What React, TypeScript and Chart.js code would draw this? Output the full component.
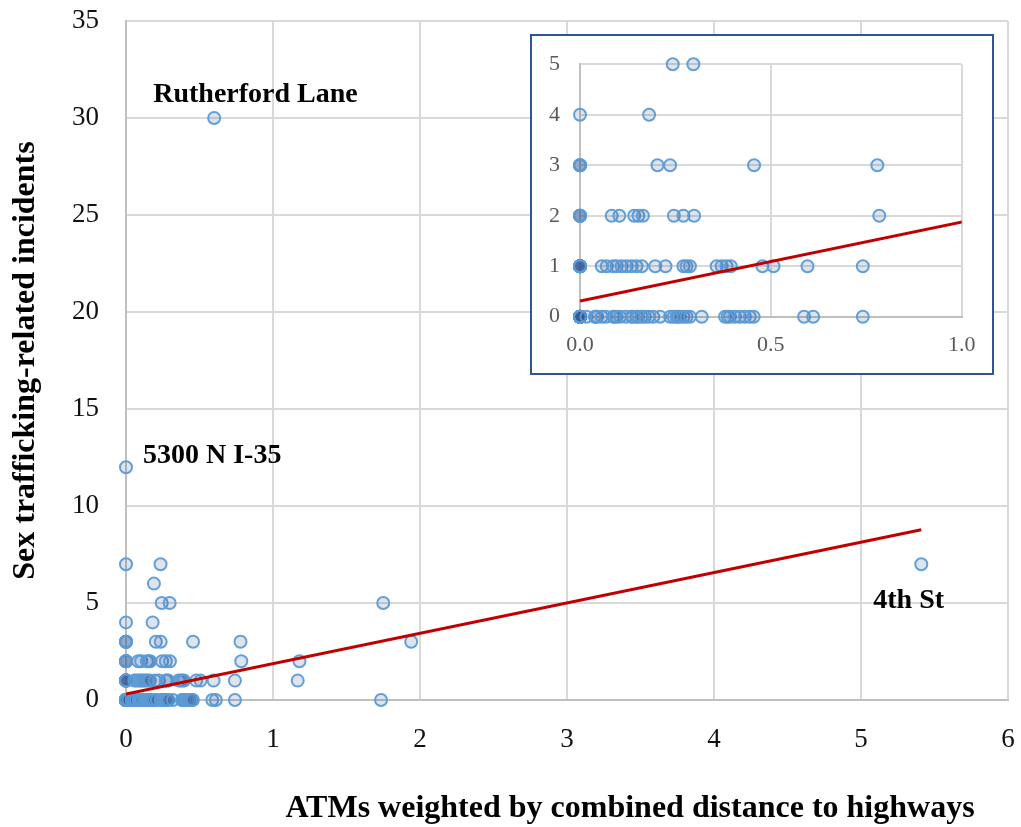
import React, { useEffect, useRef } from "react";
import { Chart, registerables } from "chart.js";

Chart.register(...registerables);

// ATM locations: weighted ATM score (x) grouped by number of incidents (y)
const atmsWithNoIncidents = [
  0, 0, 0, 0, 0, 0, 0, 0, 0, 0, 0, 0, 0, 0, 0, 0, 0, 0, 0, 0,
  0.017, 0.039, 0.042, 0.045, 0.057, 0.068, 0.087, 0.09, 0.096, 0.105, 0.12,
  0.135, 0.138, 0.148, 0.152, 0.161, 0.17, 0.18, 0.192, 0.21, 0.236, 0.245,
  0.253, 0.256, 0.262, 0.271, 0.279, 0.288, 0.319, 0.38, 0.387, 0.393, 0.406,
  0.419, 0.432, 0.445, 0.455, 0.587, 0.611, 0.741, 1.735,
];
const atmsWithOneIncident = [
  0, 0, 0, 0, 0, 0, 0, 0, 0, 0, 0, 0,
  0.057, 0.07, 0.087, 0.096, 0.109, 0.122, 0.135, 0.148, 0.162, 0.197, 0.224,
  0.271, 0.279, 0.288, 0.358, 0.371, 0.384, 0.395, 0.478, 0.507, 0.596, 0.741,
  1.168,
];
const atmsWithTwoIncidents = [
  0, 0, 0, 0, 0, 0.083, 0.103, 0.142, 0.153, 0.165, 0.246, 0.271, 0.299, 0.784,
  1.18,
];
const atmsWithThreeIncidents = [0, 0, 0, 0, 0.203, 0.236, 0.456, 0.779, 1.94];
const atmsWithFourIncidents = [0, 0.181];
const atmsWithFiveIncidents = [0.243, 0.297, 1.75];
const atmsWithSixIncidents = [0.19];
const atmsWithSevenIncidents = [0, 0.235];

// Named outlier locations
const outlierNames = ["Rutherford Lane", "5300 N I-35", "4th St"];
const outlierX = [0.6, 0, 5.41];
const outlierY = [30, 12, 7];

// Linear trend line
const trendIntercept = 0.31;
const trendSlope = 1.565;
const trendRange = [0, 5.41];

// Axis tick settings
const mainXTicks = { min: 0, max: 6, step: 1 };
const mainYTicks = { min: 0, max: 35, step: 5 };
const insetXTicks = { min: 0, max: 1, step: 0.5 };
const insetYTicks = { min: 0, max: 5, step: 1 };

const X_TITLE = "ATMs weighted by combined distance to highways";
const Y_TITLE = "Sex trafficking-related incidents";

const SERIF = '"Liberation Serif", "Times New Roman", serif';

const levelGroups: [number[], number][] = [
  [atmsWithNoIncidents, 0],
  [atmsWithOneIncident, 1],
  [atmsWithTwoIncidents, 2],
  [atmsWithThreeIncidents, 3],
  [atmsWithFourIncidents, 4],
  [atmsWithFiveIncidents, 5],
  [atmsWithSixIncidents, 6],
  [atmsWithSevenIncidents, 7],
];

function buildPoints() {
  const pts: { x: number; y: number }[] = [];
  levelGroups.forEach(([xs, y]) => xs.forEach((x) => pts.push({ x, y })));
  outlierX.forEach((x, i) => pts.push({ x, y: outlierY[i] }));
  return pts;
}

function buildTrend() {
  return trendRange.map((x) => ({ x, y: trendIntercept + trendSlope * x }));
}

// markers may spill a few px past the plot edge, anything further is hidden
const MARKER_CLIP = { left: 9, right: 9, top: 9, bottom: 9 };

function datasets() {
  return [
    {
      type: "scatter" as const,
      data: buildTrend(),
      showLine: true,
      pointRadius: 0,
      borderColor: "#c00000",
      borderWidth: 3,
      order: 0,
      clip: 0,
    },
    {
      type: "scatter" as const,
      data: buildPoints(),
      pointRadius: 6,
      pointBorderWidth: 2,
      pointBackgroundColor: "rgba(47, 85, 151, 0.16)",
      pointBorderColor: "rgba(91, 155, 213, 0.95)",
      order: 1,
      clip: MARKER_CLIP,
    },
  ];
}

const gridStyle = { color: "#d9d9d9", lineWidth: 2, drawTicks: false };
const borderStyle = { color: "#bfbfbf", width: 2 };

// fix an axis box size and drop the extra padding Chart.js reserves for edge labels
function fixBox(size: number, horizontal: boolean) {
  return (s: any) => {
    if (horizontal) s.height = size;
    else s.width = size;
    s.paddingTop = 0;
    s.paddingBottom = 0;
    s.paddingLeft = 0;
    s.paddingRight = 0;
  };
}

const axisTitlesPlugin = {
  id: "axisTitles",
  afterDraw(chart: any) {
    const { ctx, chartArea } = chart;
    ctx.save();
    ctx.fillStyle = "#000";
    ctx.font = `bold 32px ${SERIF}`;
    ctx.textAlign = "center";
    ctx.textBaseline = "alphabetic";
    ctx.fillText(X_TITLE, 630, 817);
    ctx.translate(34, (chartArea.top + chartArea.bottom) / 2);
    ctx.rotate(-Math.PI / 2);
    ctx.fillText(Y_TITLE, 0, 0);
    ctx.restore();
  },
};

// label offsets (px) from each named point
const labelOffsets = [
  { dx: -61, dy: -16 },
  { dx: 17, dy: -4 },
  { dx: -48, dy: 44 },
];

const outlierLabelsPlugin = {
  id: "outlierLabels",
  afterDatasetsDraw(chart: any) {
    const { ctx, scales } = chart;
    ctx.save();
    ctx.fillStyle = "#000";
    ctx.font = `bold 28px ${SERIF}`;
    ctx.textAlign = "left";
    ctx.textBaseline = "alphabetic";
    outlierNames.forEach((name, i) => {
      const px = scales.x.getPixelForValue(outlierX[i]);
      const py = scales.y.getPixelForValue(outlierY[i]);
      ctx.fillText(name, px + labelOffsets[i].dx, py + labelOffsets[i].dy);
    });
    ctx.restore();
  },
};

function MainChart() {
  const ref = useRef<HTMLCanvasElement>(null);
  useEffect(() => {
    if (!ref.current) return;
    const tickFont = { family: SERIF, size: 27 };
    const chart = new Chart(ref.current, {
      type: "scatter",
      data: { datasets: datasets() as any },
      options: {
        responsive: false,
        animation: false,
        layout: { padding: { top: 21, right: 13, left: 0, bottom: 0 } },
        plugins: { legend: { display: false }, tooltip: { enabled: false } },
        scales: {
          x: {
            type: "linear",
            min: mainXTicks.min,
            max: mainXTicks.max,
            ticks: { stepSize: mainXTicks.step, padding: 24, font: tickFont, color: "#111" },
            grid: gridStyle,
            border: borderStyle,
            afterFit: fixBox(127, true),
          },
          y: {
            type: "linear",
            min: mainYTicks.min,
            max: mainYTicks.max,
            ticks: { stepSize: mainYTicks.step, padding: 27, font: tickFont, color: "#111" },
            grid: gridStyle,
            border: borderStyle,
            afterFit: fixBox(126, false),
          },
        },
      },
      plugins: [axisTitlesPlugin, outlierLabelsPlugin],
    });
    return () => chart.destroy();
  }, []);
  return <canvas ref={ref} width={1021} height={827} style={{ display: "block" }} />;
}

function InsetChart() {
  const ref = useRef<HTMLCanvasElement>(null);
  useEffect(() => {
    if (!ref.current) return;
    const tickFont = { family: SERIF, size: 22 };
    const chart = new Chart(ref.current, {
      type: "scatter",
      data: { datasets: datasets() as any },
      options: {
        responsive: false,
        animation: false,
        layout: { padding: { top: 28.3, right: 30.3, left: 0, bottom: 0 } },
        plugins: { legend: { display: false }, tooltip: { enabled: false } },
        scales: {
          x: {
            type: "linear",
            min: insetXTicks.min,
            max: insetXTicks.max,
            ticks: {
              stepSize: insetXTicks.step,
              padding: 15,
              font: tickFont,
              color: "#595959",
              callback: (v: any) => Number(v).toFixed(1),
            },
            grid: gridStyle,
            border: borderStyle,
            afterFit: fixBox(56.3, true),
          },
          y: {
            type: "linear",
            min: insetYTicks.min,
            max: insetYTicks.max,
            ticks: { stepSize: insetYTicks.step, padding: 20, font: tickFont, color: "#595959" },
            grid: gridStyle,
            border: borderStyle,
            afterFit: fixBox(48, false),
          },
        },
      },
    });
    return () => chart.destroy();
  }, []);
  return <canvas ref={ref} width={460} height={337} style={{ display: "block" }} />;
}

export default function App() {
  return (
    <div
      style={{
        position: "fixed",
        left: 0,
        top: 0,
        width: 1021,
        height: 827,
        background: "#fff",
      }}
    >
      <MainChart />
      <div
        style={{
          position: "absolute",
          left: 530,
          top: 34,
          width: 464,
          height: 341,
          boxSizing: "border-box",
          border: "2px solid #2f5597",
          background: "#fff",
        }}
      >
        <InsetChart />
      </div>
    </div>
  );
}
